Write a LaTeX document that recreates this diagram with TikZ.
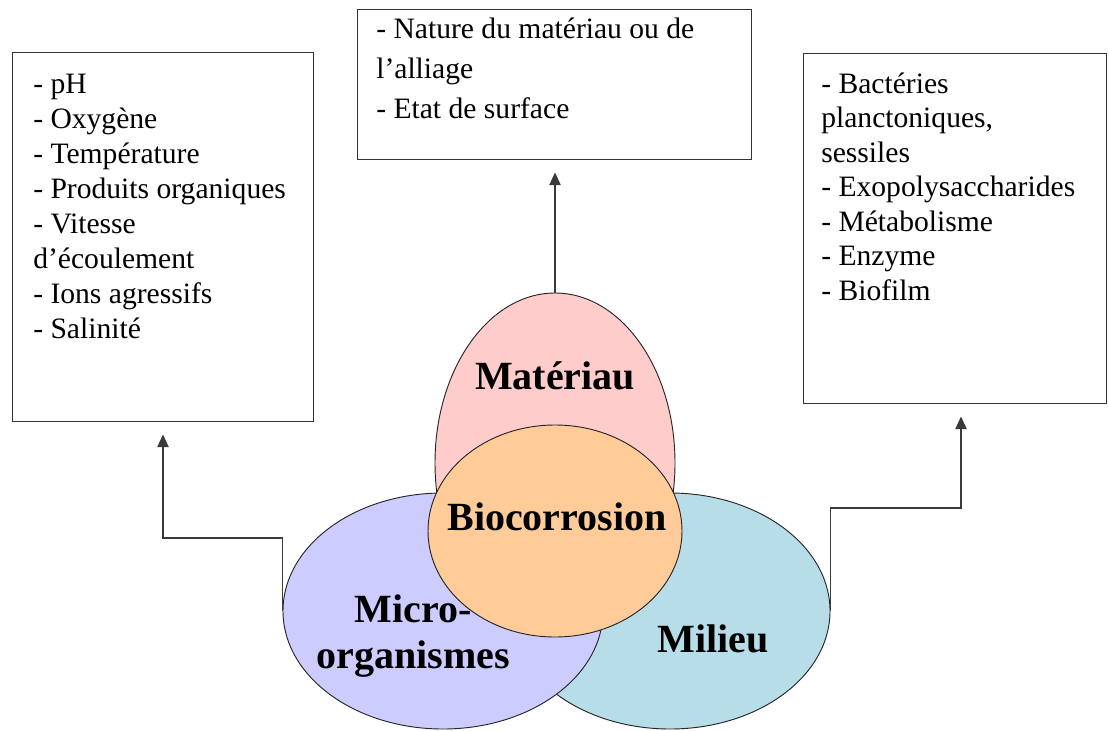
\documentclass[tikz,border=0pt]{standalone}
\usepackage{fontspec}
\setmainfont{Liberation Serif}
\usetikzlibrary{shapes.geometric,arrows.meta}
\definecolor{matfill}{HTML}{FFCCCC}
\definecolor{biofill}{HTML}{FFCC99}
\definecolor{micfill}{HTML}{CCCCFF}
\definecolor{milfill}{HTML}{B7DDE8}
\definecolor{boxline}{HTML}{333333}
\definecolor{connline}{HTML}{3A3A3A}
\tikzset{
  infobox/.style={draw=boxline, line width=1.1pt, rectangle, anchor=north west, inner sep=0pt, fill=white},
  infotext/.style={anchor=north west, inner sep=0pt, align=left},
  venn/.style={ellipse, draw=black!85, line width=0.7pt, inner sep=0pt},
  vennlabel/.style={inner sep=0pt, font=\fontsize{30pt}{34.5pt}\selectfont\bfseries},
  conn/.style={draw=connline, line width=0.9pt, -{Triangle[length=9.5pt,width=8.5pt]}, shorten >=9pt}
}
\begin{document}
\begin{tikzpicture}[x=0.75pt, y=-0.75pt]
\useasboundingbox (0,0) rectangle (1109,731);

% boxes
\node[infobox, minimum width=225.75pt, minimum height=276.75pt] (lbox) at (12,52) {};
\node[infobox, minimum width=295.5pt, minimum height=112.5pt] (tbox) at (357,9) {};
\node[infobox, minimum width=227.25pt, minimum height=262.5pt] (rbox) at (803,53) {};

\node[infotext, font=\fontsize{22.2pt}{26.25pt}\selectfont] (ltext) at (33,68.5)
  {\strut- pH\\- Oxygène\\- Température\\- Produits organiques\\- Vitesse\\d’écoulement\\- Ions agressifs\\- Salinité};
\node[infotext, font=\fontsize{22.2pt}{30pt}\selectfont] (ttext) at (376,10)
  {\strut- Nature du matériau ou de\\l’alliage\\- Etat de surface};
\node[infotext, font=\fontsize{22.2pt}{25.9pt}\selectfont] (rtext) at (821,68.7)
  {\strut- Bactéries\\planctoniques,\\sessiles\\- Exopolysaccharides\\- Métabolisme\\- Enzyme\\- Biofilm};

% Venn ellipses
\node[venn, fill=milfill, minimum width=240pt, minimum height=177pt] (milieu) at (670,611) {};
\node[venn, fill=micfill, minimum width=240pt, minimum height=177pt] (micro) at (443,611) {};
\node[venn, fill=matfill, minimum width=180pt, minimum height=255pt] (mat) at (555,463) {};
\node[venn, fill=biofill, minimum width=190.5pt, minimum height=159pt] (bio) at (555,531) {};

% labels
\node[vennlabel, anchor=base] (matlabel) at (555,389) {Matériau};
\node[vennlabel, anchor=base] (biolabel) at (557,530) {Biocorrosion};
\node[vennlabel, anchor=base] (millabel) at (713,652) {Milieu};
\node[vennlabel, anchor=north, align=center] (miclabel) at (413,589.8) {\strut Micro-\\organismes};

% connectors
\coordinate (lbend) at (163,538);
\coordinate (rbend) at (961,508);
\draw[conn] (mat.north) -- (mat.north |- tbox.south);
\draw[conn] (micro.west) |- (lbend) -- (lbend |- lbox.south);
\draw[conn] (milieu.east) |- (rbend) -- (rbend |- rbox.south);
\end{tikzpicture}
\end{document}
